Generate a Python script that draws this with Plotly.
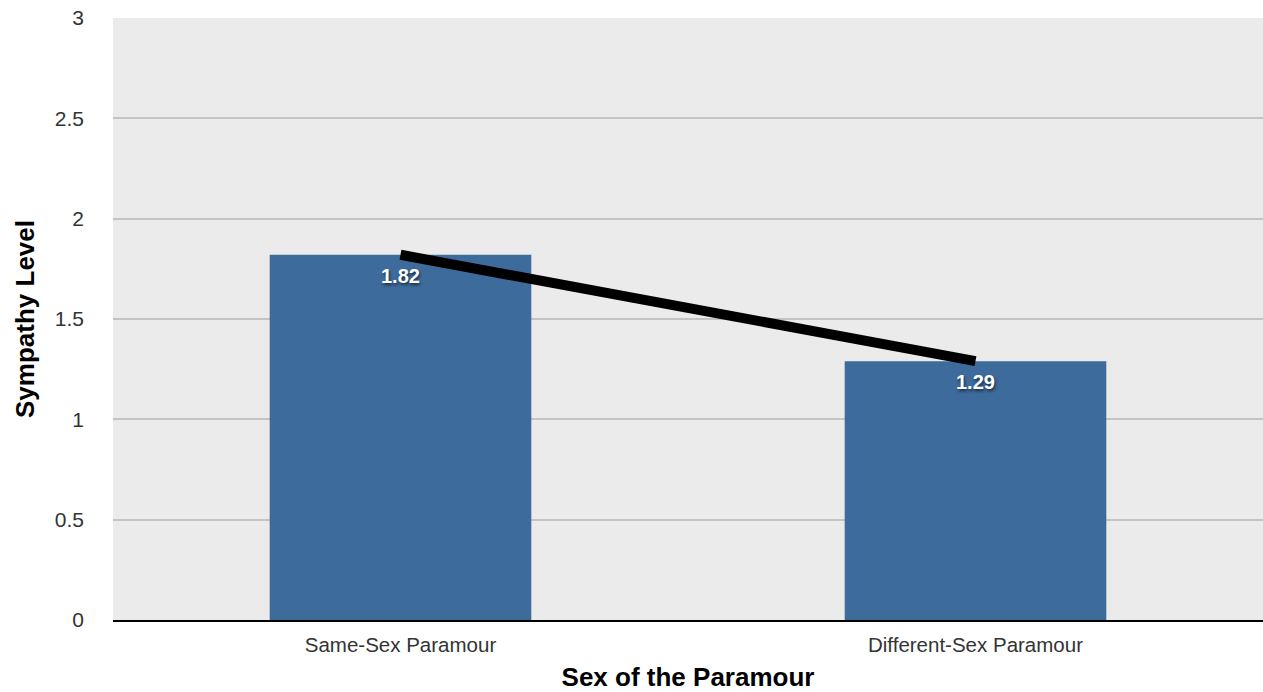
import plotly.graph_objects as go

# data
categories = ["Same-Sex Paramour", "Different-Sex Paramour"]
sympathy = [1.82, 1.29]
labels = ["1.82", "1.29"]

_BAR = "#3d6b9b"
_BG = "#ebebeb"
_GRID = "#c4c4c4"
_TEXT = "#333333"
_FONT = "Liberation Sans, Arial, Helvetica, sans-serif"

fig = go.Figure()

fig.add_trace(go.Bar(
    x=categories, y=sympathy,
    marker=dict(color=_BAR, line=dict(width=0)),
    width=0.455,
    showlegend=False, hoverinfo="skip",
))

# trend line between the bar tops
fig.add_trace(go.Scatter(
    x=categories, y=sympathy,
    mode="lines", line=dict(color="black", width=10),
    showlegend=False, hoverinfo="skip",
))

# value labels just under the bar tops
for cat, val, lab in zip(categories, sympathy, labels):
    fig.add_annotation(
        x=cat, y=val, text=f"<b>{lab}</b>", showarrow=False,
        yanchor="middle", yshift=-21,
        font=dict(color="white", size=20, family=_FONT,
                  shadow="1px 2px 3px rgba(0,0,0,0.6)"),
    )

fig.update_layout(
    width=1263, height=692,
    paper_bgcolor="white", plot_bgcolor=_BG,
    font=dict(family=_FONT, color=_TEXT, size=20),
    margin=dict(l=113, r=0, t=18, b=72),
    xaxis=dict(
        showgrid=False, zeroline=False,
        showline=True, linecolor="black", linewidth=2,
        ticks="", ticklabelstandoff=5,
        tickfont=dict(size=20.5, color=_TEXT),
        title=dict(text="<b>Sex of the Paramour</b>", standoff=19,
                   font=dict(size=26, color="black")),
    ),
    yaxis=dict(
        range=[0, 3], dtick=0.5,
        showgrid=True, gridcolor=_GRID, gridwidth=2,
        zeroline=False, showline=False,
        ticks="", ticklabelstandoff=28,
        tickfont=dict(size=21, color=_TEXT),
        title=dict(text="<b>Sympathy Level</b>", standoff=12,
                   font=dict(size=26, color="black")),
    ),
)

fig.write_html(
    "out.html",
    config={"displayModeBar": False},
    post_script="document.body.style.margin='0';document.body.style.overflow='hidden';",
)
